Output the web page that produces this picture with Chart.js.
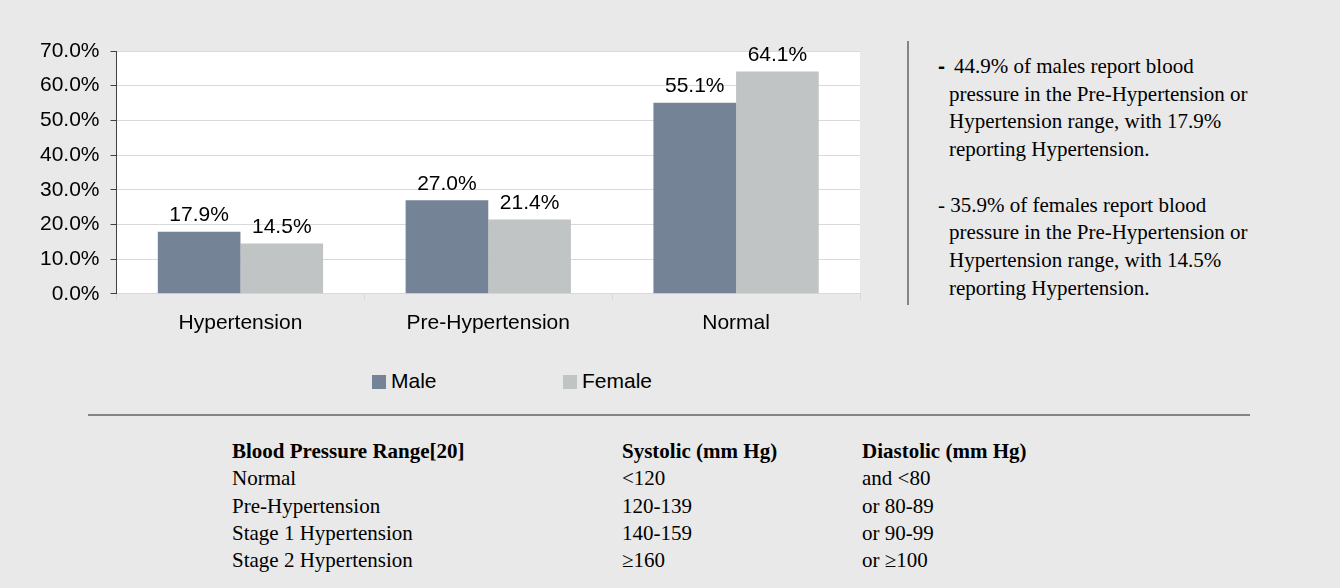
<!DOCTYPE html>
<html>
<head>
<meta charset="utf-8">
<script src="https://cdn.jsdelivr.net/npm/chart.js@4.4.1/dist/chart.umd.min.js"></script>
<style>
  html, body { margin: 0; padding: 0; }
  body { width: 1340px; height: 588px; background: #e9e9e9; position: relative; overflow: hidden; }
  #chartBox { position: absolute; left: 0; top: 0; width: 880px; height: 357px; }
  .legend { position: absolute; top: 372px; font: 21px "Liberation Sans", Arial, sans-serif; color: #000; line-height: 24px; }
  .legend span.box { position: absolute; left: 0; top: 3px; width: 14px; height: 14px; }
  .legend span.txt { position: absolute; left: 19px; top: -3px; white-space: nowrap; }
  .vline { position: absolute; left: 907px; top: 41px; width: 2px; height: 264px; background: #858585; }
  .hline { position: absolute; left: 88px; top: 414px; width: 1162px; height: 2px; background: #858585; }
  .notes { position: absolute; left: 949px; top: 52px; font: 21px "Liberation Serif", "Times New Roman", serif; line-height: 27.7px; color: #000; white-space: nowrap; }
  .notes .first { margin-left: -11px; }
  .notes .blank { height: 27.7px; }
  .notes .dash { display: inline-block; width: 16px; font-family: "Liberation Sans", Arial, sans-serif; font-weight: bold; }
  .bp { position: absolute; top: 438px; font: 21px "Liberation Serif", "Times New Roman", serif; line-height: 27.25px; color: #000; }
  .bp div { position: absolute; white-space: nowrap; }
</style>
</head>
<body>
<div id="chartBox"><canvas id="chart"></canvas></div>
<div id="legend"></div>
<div class="vline"></div>
<div class="notes" id="notes"></div>
<div class="hline"></div>
<div class="bp" id="bpTable"></div>

<script>
// chart data
const categories = ["Hypertension", "Pre-Hypertension", "Normal"];
const maleValues = [17.9, 27.0, 55.1];
const femaleValues = [14.5, 21.4, 64.1];
const seriesNames = ["Male", "Female"];
const seriesColors = ["#748396", "#c0c4c5"];
const yMax = 70;
const yStep = 10;

// side notes
const maleNote = ["44.9% of males report blood", "pressure in the Pre-Hypertension or", "Hypertension range, with 17.9%", "reporting Hypertension."];
const femaleNote = ["- 35.9% of females report blood", "pressure in the Pre-Hypertension or", "Hypertension range, with 14.5%", "reporting Hypertension."];

// reference table
const tableHeader = ["Blood Pressure Range[20]", "Systolic (mm Hg)", "Diastolic (mm Hg)"];
const rangeNames = ["Normal", "Pre-Hypertension", "Stage 1 Hypertension", "Stage 2 Hypertension"];
const systolic = ["<120", "120-139", "140-159", "\u2265160"];
const diastolic = ["and <80", "or 80-89", "or 90-99", "or \u2265100"];

const sansFont = '"Liberation Sans", Arial, sans-serif';

// white plot area behind the bars
const plotBackground = {
  id: "plotBackground",
  beforeDraw(chart) {
    const a = chart.chartArea;
    const ctx = chart.ctx;
    ctx.save();
    ctx.fillStyle = "#ffffff";
    ctx.fillRect(a.left, a.top, a.right - a.left, a.bottom - a.top);
    ctx.restore();
  },
};

// value labels above each bar
const barLabels = {
  id: "barLabels",
  afterDatasetsDraw(chart) {
    const ctx = chart.ctx;
    ctx.save();
    ctx.font = "21px " + sansFont;
    ctx.fillStyle = "#000";
    ctx.textAlign = "center";
    ctx.textBaseline = "alphabetic";
    chart.data.datasets.forEach((ds, i) => {
      chart.getDatasetMeta(i).data.forEach((bar, j) => {
        ctx.fillText(ds.data[j].toFixed(1) + "%", bar.x, bar.y - 10.5);
      });
    });
    ctx.restore();
  },
};

Chart.defaults.font.family = sansFont;
Chart.defaults.font.size = 21;
Chart.defaults.color = "#000";

const myChart = new Chart(document.getElementById("chart"), {
  type: "bar",
  data: {
    labels: categories,
    datasets: [
      { label: seriesNames[0], data: maleValues, backgroundColor: seriesColors[0] },
      { label: seriesNames[1], data: femaleValues, backgroundColor: seriesColors[1] },
    ],
  },
  options: {
    responsive: true,
    maintainAspectRatio: false,
    animation: false,
    events: [],
    devicePixelRatio: 1,
    categoryPercentage: 0.667,
    barPercentage: 1.0,
    layout: { padding: { left: 29, top: 51, right: 20, bottom: 10 } },
    plugins: {
      legend: { display: false },
      tooltip: { enabled: false },
    },
    scales: {
      x: {
        grid: { drawOnChartArea: false, tickLength: 6, color: "#d9d9d9", tickColor: "#d9d9d9" },
        border: { color: "#d9d9d9" },
        ticks: { padding: 11, font: { size: 21 } },
      },
      y: {
        min: 0,
        max: yMax,
        grid: { color: "#d9d9d9", tickLength: 6, tickColor: "#404040" },
        border: { color: "#404040" },
        ticks: {
          stepSize: yStep,
          padding: 11,
          font: { size: 21 },
          callback: (v) => v.toFixed(1) + "%",
        },
      },
    },
  },
  plugins: [plotBackground, barLabels],
});

// legend built from the chart's datasets
const legendLeft = [372, 563];
const legendEl = document.getElementById("legend");
myChart.data.datasets.forEach((ds, i) => {
  const item = document.createElement("div");
  item.className = "legend";
  item.style.left = legendLeft[i] + "px";
  item.innerHTML = '<span class="box" style="background:' + ds.backgroundColor + '"></span><span class="txt">' + ds.label + "</span>";
  legendEl.appendChild(item);
});

// notes on the right
const notesEl = document.getElementById("notes");
let html = "";
maleNote.forEach((line, i) => {
  if (i === 0) html += '<div class="first"><span class="dash">-</span>' + line + "</div>";
  else html += "<div>" + line + "</div>";
});
html += '<div class="blank"></div>';
femaleNote.forEach((line, i) => {
  html += '<div' + (i === 0 ? ' class="first"' : "") + ">" + line + "</div>";
});
notesEl.innerHTML = html;

// blood pressure table
const colX = [232, 622, 862];
const rowH = 27.25;
const bpEl = document.getElementById("bpTable");
function addCell(text, col, row, bold) {
  const d = document.createElement("div");
  d.textContent = text;
  d.style.left = colX[col] + "px";
  d.style.top = row * rowH + "px";
  if (bold) d.style.fontWeight = "bold";
  bpEl.appendChild(d);
}
tableHeader.forEach((t, c) => addCell(t, c, 0, true));
rangeNames.forEach((name, r) => {
  addCell(name, 0, r + 1, false);
  addCell(systolic[r], 1, r + 1, false);
  addCell(diastolic[r], 2, r + 1, false);
});
</script>
</body>
</html>
